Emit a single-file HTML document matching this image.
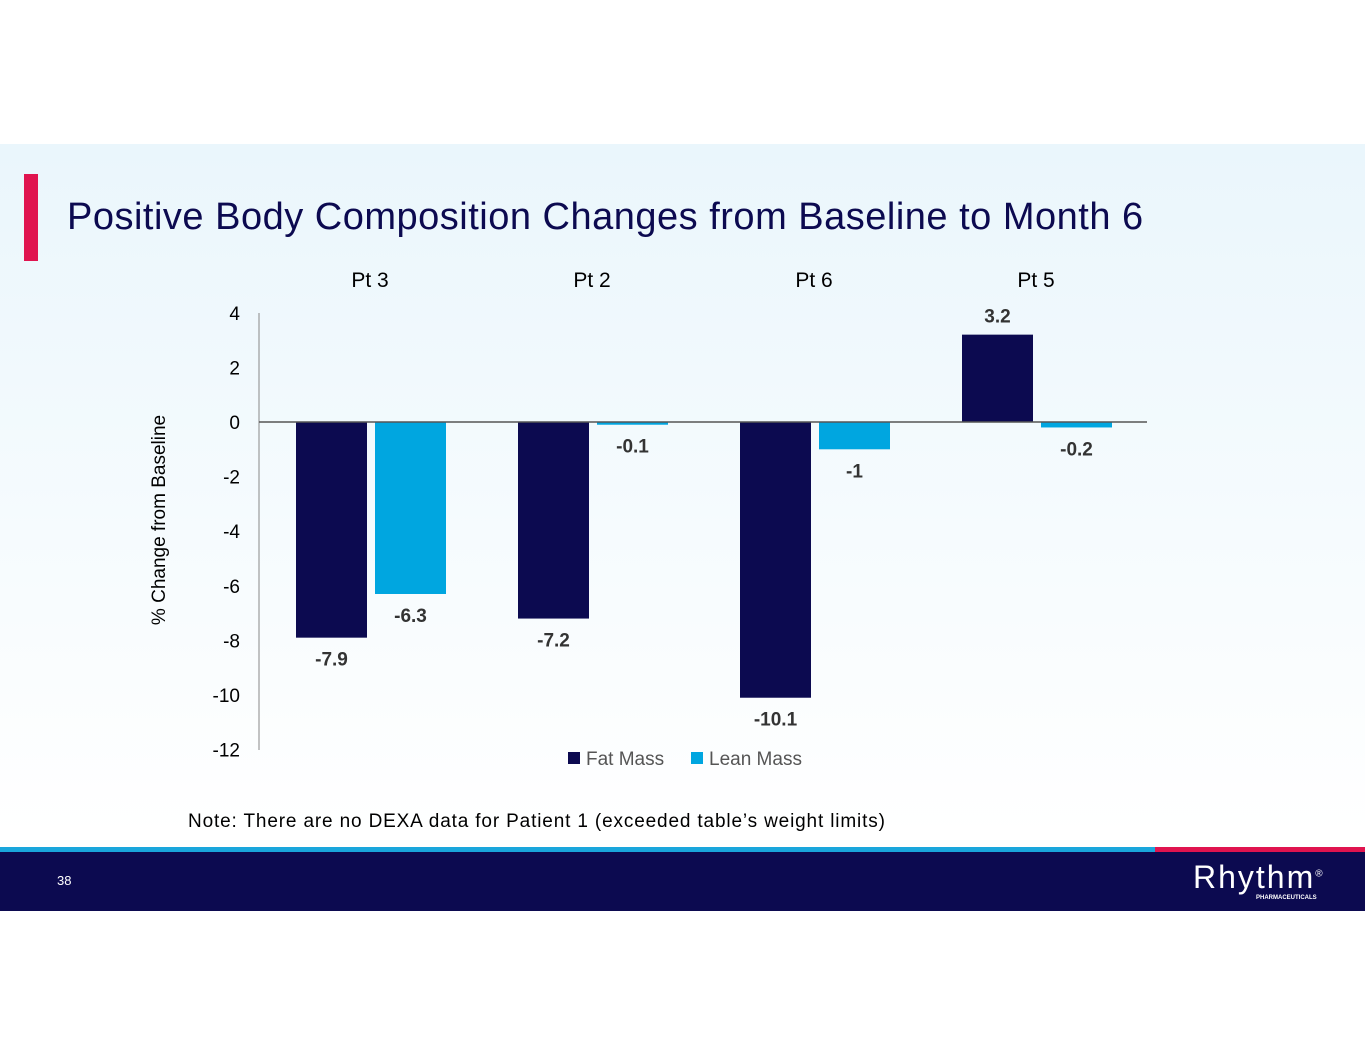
<!DOCTYPE html>
<html><head><meta charset="utf-8"><style>
body{margin:0;width:1365px;height:1055px;background:#fff;font-family:"Liberation Sans",sans-serif;position:relative;overflow:hidden}
#slide{position:absolute;left:0;top:144px;width:1365px;height:768px;background:linear-gradient(#eaf6fc,#ffffff 90%)}
</style></head><body>
<div id="slide">
<div style="position:absolute;left:24px;top:30px;width:14px;height:87px;background:#e0144f"></div>
<div style="position:absolute;left:67px;top:52px;font-size:38px;letter-spacing:0.5px;color:#0c0a50;white-space:nowrap">Positive Body Composition Changes from Baseline to Month 6</div>
<div style="position:absolute;left:188px;top:667px;font-size:19px;letter-spacing:0.85px;color:#000;white-space:nowrap">Note: There are no DEXA data for Patient 1 (exceeded table’s weight limits)</div>
<div style="position:absolute;left:0;top:703px;width:1155px;height:5px;background:#1aa6dc"></div>
<div style="position:absolute;left:1155px;top:703px;width:210px;height:5px;background:#e0144f"></div>
<div style="position:absolute;left:0;top:708px;width:1365px;height:59px;background:#0c0a50"></div>
<div style="position:absolute;left:57px;top:729px;font-size:13px;color:#fff">38</div>
<div style="position:absolute;left:1193px;top:715px;color:#fff;font-size:32px;letter-spacing:2px">Rhythm<sup style="font-size:10px">®</sup></div>
<div style="position:absolute;left:1256px;top:751px;color:#fff;font-size:6px;font-weight:bold">PHARMACEUTICALS</div>
</div>
<svg id="chart" width="1365" height="1055" style="position:absolute;left:0;top:0" font-family="Liberation Sans, sans-serif"></svg>
<script>
const categories=["Pt 3","Pt 2","Pt 6","Pt 5"];
const fatMass=[-7.9,-7.2,-10.1,3.2];
const leanMass=[-6.3,-0.1,-1,-0.2];
const yTicks=[4,2,0,-2,-4,-6,-8,-10,-12];
const svg=document.getElementById('chart');const NS='http://www.w3.org/2000/svg';
const y=v=>422-v*27.3;
const xC=i=>259+222*(i+0.5);
function mk(t,a,txt){const e=document.createElementNS(NS,t);for(const k in a)e.setAttribute(k,a[k]);if(txt!==undefined)e.textContent=txt;svg.appendChild(e);return e;}
let e=mk('line',{x1:259,x2:259,y1:313,y2:750,stroke:'#888'});


yTicks.forEach(t=>{const l=mk('text',{x:240,y:y(t)+7,'text-anchor':'end','font-size':19,fill:'#000'},t);

});
e=mk('text',{transform:'translate(165,520) rotate(-90)','text-anchor':'middle','font-size':19,fill:'#000'},'% Change from Baseline');


function bar(v,x,col,name){const top=Math.min(y(0),y(v)),h=Math.abs(y(v)-y(0));
const r=mk('rect',{x:x,y:top,width:71,height:h,fill:col});


const ly=v>=0?y(v)-18:y(v)+22;
const t=mk('text',{x:x+35.5,y:ly+6,'text-anchor':'middle','font-size':19,'font-weight':'bold',fill:'#333'},v);

}
categories.forEach((c,i)=>{const cx=xC(i);
const t=mk('text',{x:cx,y:287,'text-anchor':'middle','font-size':21,fill:'#000'},c);


bar(fatMass[i],cx-74,'#0c0a50','bar-fat-mass');
bar(leanMass[i],cx+5,'#00a6e0','bar-lean-mass');});
e=mk('line',{x1:259,x2:1147,y1:y(0),y2:y(0),stroke:'#555','stroke-width':1.5});


e=mk('rect',{x:568,y:752,width:12,height:12,fill:'#0c0a50'});


e=mk('text',{x:586,y:765,'font-size':19,fill:'#555'},'Fat Mass');


e=mk('rect',{x:691,y:752,width:12,height:12,fill:'#00a6e0'});


e=mk('text',{x:709,y:765,'font-size':19,fill:'#555'},'Lean Mass');


</script>
</body></html>
